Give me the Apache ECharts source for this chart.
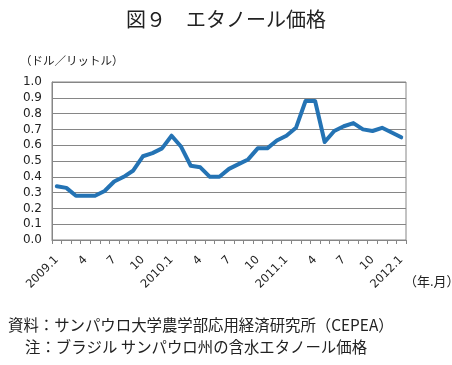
<!DOCTYPE html>
<html><head><meta charset="utf-8">
<script src="https://cdn.jsdelivr.net/npm/echarts@6/dist/echarts.min.js"></script>
<style>html,body{margin:0;padding:0;background:#fff}#c{width:452px;height:365px}</style>
</head><body><div id="c"></div>
<script>
const months = ['2009.1','2','3','4','5','6','7','8','9','10','11','12',
  '2010.1','2','3','4','5','6','7','8','9','10','11','12',
  '2011.1','2','3','4','5','6','7','8','9','10','11','12','2012.1'];
const prices = [0.34,0.33,0.28,0.28,0.28,0.31,0.37,0.40,0.44,0.53,0.55,0.58,
  0.66,0.59,0.47,0.46,0.40,0.40,0.45,0.48,0.51,0.58,0.58,0.63,
  0.66,0.71,0.88,0.88,0.62,0.69,0.72,0.74,0.70,0.69,0.71,0.68,0.65];
const titleText = '図９　エタノール価格';
const yName = '（ドル／リットル）';
const xName = '（年.月）';
const note1 = '資料：サンパウロ大学農学部応用経済研究所（CEPEA）';
const note2 = '注：ブラジル サンパウロ州の含水エタノール価格';

const jp = '"Noto Sans CJK JP", sans-serif';
const chart = echarts.init(document.getElementById('c'));
chart.setOption({
  animation: false,
  backgroundColor: '#fff',
  title: { text: titleText, left: 'center', top: 4,
    textStyle: { fontFamily: jp, fontSize: 20, fontWeight: 'normal', color: '#222' } },
  grid: { left: 52, right: 46, top: 82, bottom: 125, show: true, borderColor: '#868686', borderWidth: 1 },
  xAxis: {
    type: 'category', data: months, boundaryGap: true,
    axisLine: { lineStyle: { color: '#868686', width: 1 } },
    axisTick: { show: true, interval: 0, length: 4, lineStyle: { color: '#868686' } },
    axisLabel: { interval: 2, rotate: 45, fontSize: 11.5, color: '#222', margin: 18,
      fontFamily: '"DejaVu Sans", sans-serif' },
    splitLine: { show: false }
  },
  yAxis: {
    type: 'value', min: 0, max: 1, interval: 0.1,
    axisLine: { show: true, lineStyle: { color: '#868686', width: 1 } },
    axisTick: { show: false },
    axisLabel: { formatter: v => v.toFixed(1), fontSize: 12, color: '#222', margin: 10,
      fontFamily: '"DejaVu Sans", sans-serif' },
    splitLine: { lineStyle: { color: '#868686', width: 1 } }
  },
  series: [{
    type: 'line', data: prices, symbol: 'none',
    lineStyle: { color: '#2473b4', width: 4, join: 'round', cap: 'round' }
  }],
  graphic: [
    { type: 'text', left: 20, top: 55, style: { text: yName, font: '11.5px ' + jp, fill: '#222' } },
    { type: 'text', left: 404, top: 275, style: { text: xName, font: '13px ' + jp, fill: '#222' } },
    { type: 'text', left: 8, top: 317, style: { text: note1, font: '15.4px ' + jp, fill: '#222' } },
    { type: 'text', left: 25, top: 339, style: { text: note2, font: '15.4px ' + jp, fill: '#222' } }
  ]
});
</script></body></html>
